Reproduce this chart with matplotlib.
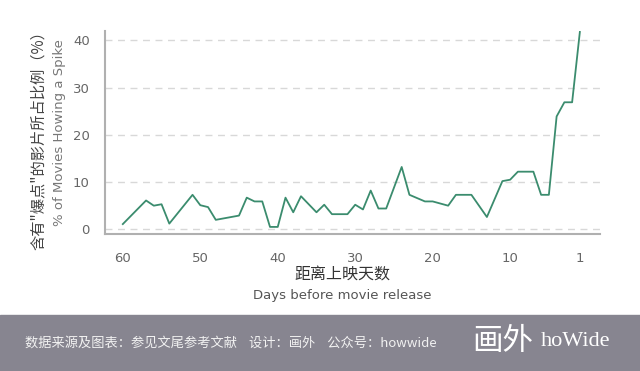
import matplotlib
matplotlib.use("Agg")
import matplotlib.pyplot as plt
from matplotlib.patches import Rectangle

# 距离上映天数 / 含有"爆点"的影片所占比例（%）
days = [60, 57, 56, 55, 54, 51, 50, 49, 48, 45, 44, 43, 42, 41, 40,
        39, 38, 37, 35, 34, 33, 31, 30, 29, 28, 27, 26, 24, 23, 21,
        20, 18, 17, 15, 13, 11, 10, 9, 7, 6, 5, 4, 3, 2, 1]
pct = [1.1, 6.1, 5.0, 5.3, 1.2, 7.3, 5.1, 4.7, 2.0, 2.9, 6.7, 5.9, 5.9, 0.5, 0.5,
       6.7, 3.6, 7.0, 3.6, 5.2, 3.2, 3.2, 5.2, 4.2, 8.2, 4.4, 4.4, 13.2, 7.3, 5.9,
       5.9, 5.0, 7.3, 7.3, 2.6, 10.2, 10.5, 12.2, 12.2, 7.3, 7.3, 23.9, 26.9, 26.9, 41.8]

xticks = [60, 50, 40, 30, 20, 10, 1]
yticks = [0, 10, 20, 30, 40]

CJK = ['Noto Sans CJK SC', 'DejaVu Sans']

fig = plt.figure(figsize=(6.4, 3.71), dpi=100)
ax = fig.add_axes([105 / 640, 1 - 234 / 371, 495 / 640, 203 / 371])

ax.plot(days, pct, color='#3b8c6e', lw=1.3)

ax.set_xlim(62.3, -1.6)
ax.set_ylim(-1, 42)
ax.set_xticks(xticks)
ax.set_yticks(yticks)
ax.tick_params(length=0, labelsize=9.5, colors='#666666')
ax.tick_params(axis='x', pad=13)
ax.tick_params(axis='y', pad=11)
ax.yaxis.grid(True, ls=(0, (5, 4)), color='#d8d8d8', lw=1)
ax.set_axisbelow(True)

for s in ['top', 'right']:
    ax.spines[s].set_visible(False)
for s in ['left', 'bottom']:
    ax.spines[s].set_color('#b0b0b0')
    ax.spines[s].set_linewidth(1.5)

# 轴标题
fig.text(38 / 640, 1 - 137 / 371, '含有"爆点"的影片所占比例（%）', rotation=90,
         ha='center', va='center', fontsize=11, color='#444444', family=CJK)
fig.text(60 / 640, 1 - 133 / 371, '% of Movies Howing a Spike', rotation=90,
         ha='center', va='center', fontsize=9.5, color='#777777')
fig.text(342 / 640, 1 - 275 / 371, '距离上映天数', ha='center', va='center',
         fontsize=11.5, color='#333333', family=CJK)
fig.text(342 / 640, 1 - 296 / 371, 'Days before movie release', ha='center',
         va='center', fontsize=9.5, color='#555555')

# 页脚
fig.patches.append(Rectangle((0, 0), 1, 56 / 371, transform=fig.transFigure,
                             color='#878590', zorder=0))
fig.text(25 / 640, 1 - 343 / 371,
         '数据来源及图表：参见文尾参考文献    设计：画外    公众号：howwide',
         ha='left', va='center', fontsize=9.5, color='#f2f2f2', family=CJK)
fig.text(472 / 640, 1 - 342 / 371, '画外', ha='left', va='center',
         fontsize=22, color='white', family=CJK, weight='light')
fig.text(541 / 640, 1 - 342 / 371, 'hoWide', ha='left', va='center',
         fontsize=16, color='white', family='Liberation Serif')

fig.savefig('out.png', dpi=100)
